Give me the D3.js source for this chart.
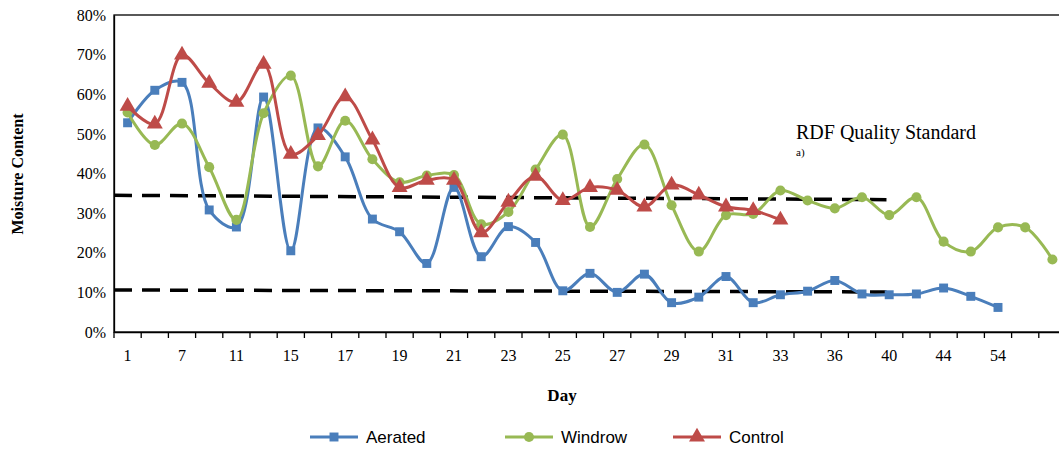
<!DOCTYPE html>
<html><head><meta charset="utf-8">
<script src="https://cdn.jsdelivr.net/npm/d3@7"></script>
<style>body{margin:0;background:#fff} .ax text{font-family:"Liberation Serif",serif;font-size:16px;fill:#000}</style></head>
<body><svg id="c" width="1059" height="450"></svg>
<script>
// categories (every other label shown on the axis)
var days = ["1","4","7","9","11","13","15","16","17","18","19","20","21","22","23","24","25","26","27","28","29","30","31","32","33","34","36","38","40","42","44","48","54","56",""];
var aerated = [52.8,61,63,30.8,26.5,59.3,20.5,51.5,44.2,28.5,25.3,17.3,36.5,19,26.6,22.6,10.4,14.8,10,14.6,7.4,8.8,14,7.4,9.4,10.3,13,9.6,9.4,9.6,11.1,9,6.2];
var windrow = [55.4,47.2,52.6,41.6,28.3,55.2,64.7,41.8,53.3,43.6,37.8,39.5,39.6,27.2,30.3,41,49.8,26.5,38.6,47.3,32,20.3,29.5,29.8,35.7,33.2,31.2,34,29.5,34,22.8,20.3,26.4,26.4,18.3];
var control = [57,52.5,69.9,62.8,58,67.6,44.9,49.6,59.4,48.5,36.5,38.3,38.3,25.1,32.8,39.3,33.2,36.5,35.8,31.6,37.1,34.6,31.6,30.7,28.3];
// RDF standard lines: [start index, start %, end index, end %]
var standards = [[-0.5,34.5,27.9,33.4],[-0.5,10.6,27.9,10.1]];
var yTicks = [0,10,20,30,40,50,60,70,80];

var svg = d3.select("#c");
var L=114, R=1066, T=15, B=332;
var x = d3.scaleBand().domain(d3.range(days.length)).range([L,R]);
var xc = function(i){ return L + (i+0.5)*x.bandwidth(); };
var y = d3.scaleLinear().domain([0,80]).range([B,T]);

svg.append("rect").attr("x",L).attr("y",T).attr("width",R-L).attr("height",B-T)
  .attr("fill","none").attr("stroke","#000").attr("stroke-width",1.3);

var ya = svg.append("g").attr("class","ax").attr("transform","translate("+L+",0)")
  .call(d3.axisLeft(y).tickValues(yTicks).tickSize(0).tickPadding(8).tickFormat(function(d){return d+"%";}));
ya.select(".domain").attr("stroke-width",1.3);

var xa = svg.append("g").attr("class","ax").attr("transform","translate(0,"+B+")")
  .call(d3.axisBottom(x).tickSize(0).tickPadding(18).tickFormat(function(i){return i%2===0?days[i]:"";}));
xa.select(".domain").attr("stroke-width",1.3);
d3.range(days.length+1).forEach(function(i){
  svg.append("line").attr("x1",L+i*x.bandwidth()).attr("x2",L+i*x.bandwidth())
    .attr("y1",B).attr("y2",B+6).attr("stroke","#000").attr("stroke-width",1.3);
});

standards.forEach(function(s){
  svg.append("line").attr("x1",xc(s[0])).attr("y1",y(s[1])).attr("x2",xc(s[2])).attr("y2",y(s[3]))
    .attr("stroke","#000").attr("stroke-width",3.5).attr("stroke-dasharray","18,10");
});

var line = d3.line().x(function(d,i){return xc(i);}).y(function(d){return y(d);}).curve(d3.curveCatmullRom.alpha(0.5));
var series = [
  {name:"Aerated",data:aerated,color:"#4a7ebb",sym:d3.symbolSquare,size:80},
  {name:"Windrow",data:windrow,color:"#98b954",sym:d3.symbolCircle,size:80},
  {name:"Control",data:control,color:"#be4b48",sym:d3.symbolTriangle,size:110}
];
series.forEach(function(s){
  svg.append("path").attr("d",line(s.data)).attr("fill","none").attr("stroke",s.color).attr("stroke-width",3);
  svg.selectAll(null).data(s.data).enter().append("path")
    .attr("d",d3.symbol().type(s.sym).size(s.size))
    .attr("transform",function(d,i){return "translate("+xc(i)+","+y(d)+")";})
    .attr("fill",s.color);
});

svg.append("text").attr("x",796).attr("y",139).attr("font-family","Liberation Serif").attr("font-size",20).text("RDF Quality Standard");
svg.append("text").attr("x",796).attr("y",156).attr("font-family","Liberation Serif").attr("font-size",11).text("a)");

svg.append("text").attr("transform","translate(23,174) rotate(-90)").attr("text-anchor","middle")
  .attr("font-family","Liberation Serif").attr("font-weight","bold").attr("font-size",16).text("Moisture Content");
svg.append("text").attr("x",562).attr("y",401).attr("text-anchor","middle")
  .attr("font-family","Liberation Serif").attr("font-weight","bold").attr("font-size",17).text("Day");

var lx=[310,505,673];
series.forEach(function(s,i){
  var g=svg.append("g").attr("transform","translate("+lx[i]+",437)");
  g.append("line").attr("x1",0).attr("x2",48).attr("stroke",s.color).attr("stroke-width",3);
  g.append("path").attr("d",d3.symbol().type(s.sym).size(s.size)).attr("transform","translate(24,0)").attr("fill",s.color);
  g.append("text").attr("x",56).attr("y",6).attr("font-family","Liberation Sans").attr("font-size",17).text(s.name);
});
</script></body></html>
